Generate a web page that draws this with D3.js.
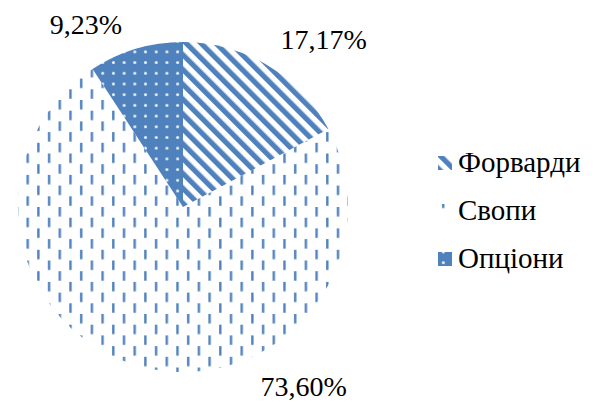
<!DOCTYPE html>
<html>
<head>
<meta charset="utf-8">
<script src="https://cdn.jsdelivr.net/npm/d3@7"></script>
<style>
  html, body { margin: 0; padding: 0; background: #fff; }
  svg text { font-family: "Liberation Serif", "Times New Roman", serif; fill: #000; }
</style>
</head>
<body>
<svg id="chart" width="598" height="401"></svg>
<script>
// data
const categories = ["Форварди", "Свопи", "Опціони"];
const values = [17.17, 73.60, 9.23];
const valueLabels = ["17,17%", "73,60%", "9,23%"];

const blue = "#4F81BD";
const width = 598, height = 401;
const cx = 183, cy = 207, radius = 165;

const svg = d3.select("#chart");
const defs = svg.append("defs");

// wide downward diagonal stripes (forwards)
const stripes = defs.append("pattern")
    .attr("id", "pat0")
    .attr("patternUnits", "userSpaceOnUse")
    .attr("width", 10.5).attr("height", 10.5)
    .attr("patternTransform", "rotate(-45)");
stripes.append("rect").attr("width", 5.2).attr("height", 10.5).attr("fill", blue);

// staggered vertical dashes (swaps)
const dashes = defs.append("pattern")
    .attr("id", "pat1")
    .attr("patternUnits", "userSpaceOnUse")
    .attr("width", 21.4).attr("height", 21.4);
dashes.append("rect").attr("x", 4).attr("y", 0).attr("width", 2.4).attr("height", 9.5).attr("fill", blue);
dashes.append("rect").attr("x", 14.7).attr("y", 10.7).attr("width", 2.4).attr("height", 9.5).attr("fill", blue);

// white dots on blue (options)
const dots = defs.append("pattern")
    .attr("id", "pat2")
    .attr("patternUnits", "userSpaceOnUse")
    .attr("width", 10.7).attr("height", 10.7);
dots.append("rect").attr("width", 10.7).attr("height", 10.7).attr("fill", blue);
dots.append("circle").attr("cx", 5.35).attr("cy", 5.35).attr("r", 1.5).attr("fill", "#fff").attr("opacity", 0.9);

const pie = d3.pie().sort(null).value(d => d);
const arc = d3.arc().innerRadius(0).outerRadius(radius);
const slices = pie(values);

const g = svg.append("g").attr("transform", "translate(" + cx + "," + cy + ")");

g.selectAll("path.slice")
    .data(slices)
    .enter().append("path")
    .attr("class", "slice")
    .attr("d", arc)
    .attr("fill", (d, i) => "url(#pat" + i + ")");

// labels placed "best fit" like the original (angle from top, distance from centre)
const labelPos = [
    {angle: 40, dist: 219},
    {angle: 146, dist: 216},
    {angle: -28, dist: 207}
];

g.selectAll("text.val")
    .data(slices)
    .enter().append("text")
    .attr("class", "val")
    .attr("x", (d, i) => Math.sin(labelPos[i].angle * Math.PI / 180) * labelPos[i].dist)
    .attr("y", (d, i) => -Math.cos(labelPos[i].angle * Math.PI / 180) * labelPos[i].dist)
    .attr("dy", "0.35em")
    .attr("text-anchor", "middle")
    .style("font-size", "28px")
    .text((d, i) => valueLabels[i]);

// legend
const legendY = d3.scalePoint().domain(categories).range([172, 268]);

const legend = svg.append("g").attr("class", "legend");
const items = legend.selectAll("g")
    .data(categories)
    .enter().append("g")
    .attr("transform", d => "translate(438," + legendY(d) + ")");

items.append("rect")
    .attr("x", 0).attr("y", -16)
    .attr("width", 14).attr("height", 14)
    .attr("fill", (d, i) => "url(#pat" + i + ")");

items.append("text")
    .attr("x", 20).attr("y", 0)
    .style("font-size", "29px")
    .text(d => d);
</script>
</body>
</html>
